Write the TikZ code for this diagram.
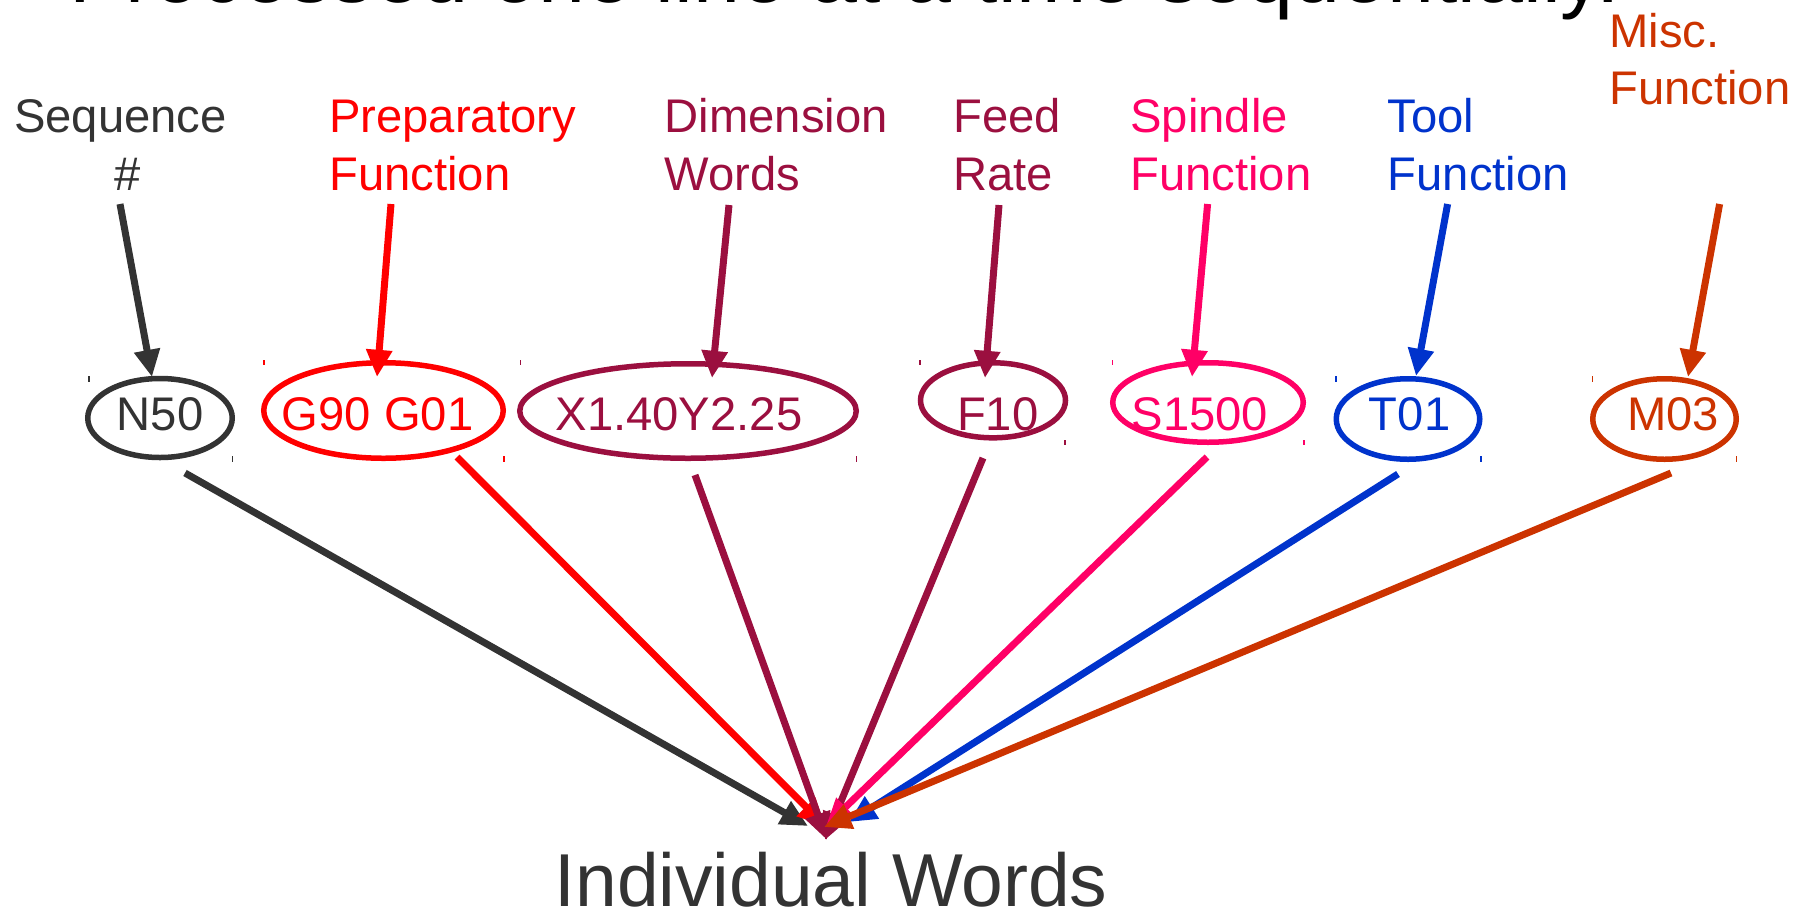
\documentclass[tikz,border=0pt]{standalone}
\usepackage{fontspec}
\setmainfont{Liberation Sans}
\usetikzlibrary{arrows.meta,shapes.geometric}
\definecolor{cgray}{HTML}{333333}
\definecolor{cred}{HTML}{FF0000}
\definecolor{ccrim}{HTML}{9B0F3F}
\definecolor{cpink}{HTML}{FF0066}
\definecolor{cblue}{HTML}{0033CC}
\definecolor{corange}{HTML}{CC3300}
\begin{document}
\begin{tikzpicture}[x=0.25pt,y=-0.25pt,
  ell/.style={ellipse, draw, line width=1.375pt, inner sep=0pt, outer sep=0pt},
  wtext/.style={font=\fontsize{11.8}{14.4}\selectfont, inner sep=0pt, anchor=base},
  lbl/.style={font=\fontsize{11.8}{14.375}\selectfont, inner sep=0pt, align=left, anchor=base west},
  arr/.style={line width=1.75pt, -{Triangle[length=6.8pt,width=6.2pt]}},
  tick/.style={line width=0.3pt}]
\useasboundingbox (0,0) rectangle (1809,911);
\clip (0,0) rectangle (1809,911);

% title (cut off at top)
\node[anchor=base west, inner sep=0pt, font=\fontsize{21.1}{25}\selectfont] (title) at (68.5,2) {Processed one line at a time sequentially.};

% labels (anchor = baseline of the last line)
\node[lbl, align=center, anchor=base, text=cgray] (seq) at (120.5,190) {Sequence\\\hspace*{3.5pt}\#};
\node[lbl, text=cred] (prep) at (328.5,190) {Preparatory\\Function};
\node[lbl, text=ccrim] (dim) at (664,190) {Dimension\\Words};
\node[lbl, text=ccrim] (feed) at (952.6,190) {Feed\\Rate};
\node[lbl, text=cpink] (spin) at (1129.6,190) {Spindle\\Function};
\node[lbl, text=cblue] (tool) at (1387,190) {Tool\\Function};
\node[lbl, text=corange] (misc) at (1608.5,104.5) {Misc.\\Function};

% ellipses
\node[ell, draw=cgray, minimum width=36.125pt, minimum height=19.75pt] (n50) at (160,418) {};
\node[ell, draw=cred, minimum width=59.875pt, minimum height=23.875pt] (g90) at (383.5,410.5) {};
\node[ell, draw=ccrim, minimum width=84.125pt, minimum height=23.625pt] (x140) at (688,411) {};
\node[ell, draw=ccrim, minimum width=36.25pt, minimum height=18.75pt] (f10) at (993,400.3) {};
\node[ell, draw=cpink, minimum width=47.625pt, minimum height=19.875pt] (s1500) at (1208,402.5) {};
\node[ell, draw=cblue, minimum width=35.875pt, minimum height=20.125pt] (t01) at (1408,419) {};
\node[ell, draw=corange, minimum width=35.875pt, minimum height=20.125pt] (m03) at (1664.5,419) {};

% ellipse texts
\node[wtext, text=cgray] (n50t) at (160,430.7) {N50};
\node[wtext, text=cred] (g90t) at (377.6,430.7) {G90 G01};
\node[wtext, text=ccrim] (x140t) at (679,430.7) {X1.40Y2.25};
\node[wtext, text=ccrim] (f10t) at (997.7,430.7) {F10};
\node[wtext, text=cpink] (s1500t) at (1200,430.7) {S1500};
\node[wtext, text=cblue] (t01t) at (1409.6,430.7) {T01};
\node[wtext, text=corange] (m03t) at (1673,430.7) {M03};

% small corner ticks
\draw[tick, cgray] (89,376) -- (89,382) (232.5,456) -- (232.5,462);
\draw[tick, cred] (264,360) -- (264,365) (504,456) -- (504,462);
\draw[tick, ccrim] (520.6,360) -- (520.6,365) (856.5,456) -- (856.5,462);
\draw[tick, ccrim] (920,360) -- (920,365) (1065,440) -- (1065,445);
\draw[tick, cpink] (1112.7,360) -- (1112.7,365) (1304,440) -- (1304,445);
\draw[tick, cblue] (1336,376) -- (1336,382) (1481,456) -- (1481,462);
\draw[tick, corange] (1592.8,376) -- (1592.8,382) (1736.5,456) -- (1736.5,462);

% bottom label
\node[inner sep=0pt, anchor=base, text=cgray, font=\fontsize{18.75}{22}\selectfont] (words) at (831,906) {Individual Words};

% connector end points
\coordinate (seqS) at (120,204);   \coordinate (n50T) at (152,377);
\coordinate (prepS) at (391,204);  \coordinate (g90T) at (377,377);
\coordinate (dimS) at (729,205);   \coordinate (x140T) at (712,378);
\coordinate (feedS) at (999,205);  \coordinate (f10T) at (985,378);
\coordinate (spinS) at (1207.6,204); \coordinate (s1500T) at (1192,377);
\coordinate (toolS) at (1447.6,204); \coordinate (t01T) at (1416,376);
\coordinate (miscS) at (1719.6,204); \coordinate (m03T) at (1688,377);

\coordinate (n50B) at (185,473);    \coordinate (wA) at (808,826);
\coordinate (g90B) at (457,457);    \coordinate (wB) at (825,826);
\coordinate (x140B) at (695,475);   \coordinate (wC) at (827,840);
\coordinate (f10B) at (983,458);    \coordinate (wD) at (825,840);
\coordinate (s1500B) at (1207,457); \coordinate (wE) at (826,826);
\coordinate (t01B) at (1398,474);   \coordinate (wF) at (849,822);
\coordinate (m03B) at (1671,473);   \coordinate (wG) at (824,827);

% top arrows
\draw[arr, cgray] (seqS) -- (n50T);
\draw[arr, cred] (prepS) -- (g90T);
\draw[arr, ccrim] (dimS) -- (x140T);
\draw[arr, ccrim] (feedS) -- (f10T);
\draw[arr, cpink] (spinS) -- (s1500T);
\draw[arr, cblue] (toolS) -- (t01T);
\draw[arr, corange] (miscS) -- (m03T);

% bottom arrows
\draw[arr, cgray] (n50B) -- (wA);
\draw[arr, cred] (g90B) -- (wB);
\draw[arr, ccrim] (x140B) -- (wC);
\draw[arr, ccrim] (f10B) -- (wD);
\draw[arr, cpink] (s1500B) -- (wE);
\draw[arr, cblue] (t01B) -- (wF);
\draw[arr, corange] (m03B) -- (wG);
\end{tikzpicture}
\end{document}
